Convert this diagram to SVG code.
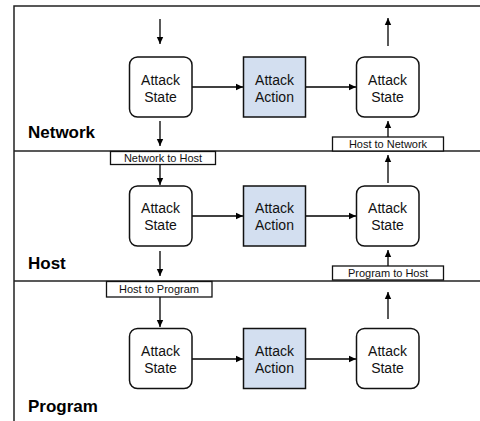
<svg xmlns="http://www.w3.org/2000/svg" width="480" height="421" viewBox="0 0 480 421">
<defs>
<marker id="ah" markerWidth="8" markerHeight="8" refX="7" refY="4" orient="auto" markerUnits="userSpaceOnUse">
<path d="M0,0.8 L7,4 L0,7.2 Z" fill="#000"/>
</marker>
<style>
.frame{fill:none;stroke:#222;stroke-width:1.5}
.state{fill:#fff;stroke:#111;stroke-width:1.5}
.action{fill:#d3dff0;stroke:#111;stroke-width:1.5}
.tag{fill:#fff;stroke:#111;stroke-width:1.3}
.t{font-family:"Liberation Sans",Arial,sans-serif;font-size:14px;fill:#111;text-anchor:middle}
.s{font-family:"Liberation Sans",Arial,sans-serif;font-size:11px;fill:#111;text-anchor:middle}
.lbl{font-family:"Liberation Sans",Arial,sans-serif;font-size:17px;font-weight:bold;fill:#000}
.c{stroke:#000;stroke-width:1.3;fill:none;marker-end:url(#ah)}
</style>
</defs>
<rect width="480" height="421" fill="#fff"/>
<g id="frame">
<path class="frame" d="M480,6 H14 V421"/>
<line class="frame" x1="14" y1="151" x2="480" y2="151"/>
<line class="frame" x1="14" y1="281" x2="480" y2="281"/>
<text class="lbl" x="28" y="138">Network</text>
<text class="lbl" x="28" y="269">Host</text>
<text class="lbl" x="28" y="412">Program</text>
</g>
<g id="connectors">
<line class="c" x1="160" y1="19" x2="160" y2="44"/>
<line class="c" x1="192" y1="87" x2="243" y2="87"/>
<line class="c" x1="306" y1="87" x2="356" y2="87"/>
<line class="c" x1="388" y1="46" x2="388" y2="18"/>
<line class="c" x1="160" y1="121" x2="160" y2="146"/>
<line class="c" x1="388" y1="137" x2="388" y2="121"/>
<line class="c" x1="160" y1="165" x2="160" y2="185"/>
<line class="c" x1="192" y1="216" x2="243" y2="216"/>
<line class="c" x1="306" y1="216" x2="356" y2="216"/>
<line class="c" x1="388" y1="183" x2="388" y2="155"/>
<line class="c" x1="160" y1="251" x2="160" y2="276"/>
<line class="c" x1="388" y1="266" x2="388" y2="250"/>
<line class="c" x1="160" y1="297" x2="160" y2="327"/>
<line class="c" x1="192" y1="359" x2="243" y2="359"/>
<line class="c" x1="306" y1="359" x2="356" y2="359"/>
<line class="c" x1="388" y1="319" x2="388" y2="292"/>
</g>
<g id="net-state-in">
<rect class="state" x="129.5" y="57" width="62.5" height="60" rx="8"/>
<text class="t" x="160.5" y="85">Attack</text>
<text class="t" x="160.5" y="102">State</text>
</g>
<g id="net-action">
<rect class="action" x="243.5" y="57" width="62" height="60"/>
<text class="t" x="274.5" y="85">Attack</text>
<text class="t" x="274.5" y="102">Action</text>
</g>
<g id="net-state-out">
<rect class="state" x="356.5" y="57" width="62.5" height="60" rx="8"/>
<text class="t" x="387.5" y="85">Attack</text>
<text class="t" x="387.5" y="102">State</text>
</g>
<g id="host-to-network">
<rect class="tag" x="332.5" y="137" width="111" height="14"/>
<text class="s" x="388" y="148">Host to Network</text>
</g>
<g id="network-to-host">
<rect class="tag" x="110.5" y="151.5" width="105" height="13"/>
<text class="s" x="163" y="162">Network to Host</text>
</g>
<g id="host-state-in">
<rect class="state" x="129.5" y="186" width="62.5" height="60" rx="8"/>
<text class="t" x="160.5" y="213">Attack</text>
<text class="t" x="160.5" y="230">State</text>
</g>
<g id="host-action">
<rect class="action" x="243.5" y="186" width="62" height="60"/>
<text class="t" x="274.5" y="213">Attack</text>
<text class="t" x="274.5" y="230">Action</text>
</g>
<g id="host-state-out">
<rect class="state" x="356.5" y="186" width="62.5" height="60" rx="8"/>
<text class="t" x="387.5" y="213">Attack</text>
<text class="t" x="387.5" y="230">State</text>
</g>
<g id="program-to-host">
<rect class="tag" x="332.5" y="266" width="111" height="14"/>
<text class="s" x="388" y="277">Program to Host</text>
</g>
<g id="host-to-program">
<rect class="tag" x="106.5" y="281.5" width="105.5" height="15.5"/>
<text class="s" x="159" y="293">Host to Program</text>
</g>
<g id="prog-state-in">
<rect class="state" x="129.5" y="328.5" width="62.5" height="60" rx="8"/>
<text class="t" x="160.5" y="356">Attack</text>
<text class="t" x="160.5" y="373">State</text>
</g>
<g id="prog-action">
<rect class="action" x="243.5" y="328.5" width="62" height="60"/>
<text class="t" x="274.5" y="356">Attack</text>
<text class="t" x="274.5" y="373">Action</text>
</g>
<g id="prog-state-out">
<rect class="state" x="356.5" y="328.5" width="62.5" height="60" rx="8"/>
<text class="t" x="387.5" y="356">Attack</text>
<text class="t" x="387.5" y="373">State</text>
</g>
</svg>
